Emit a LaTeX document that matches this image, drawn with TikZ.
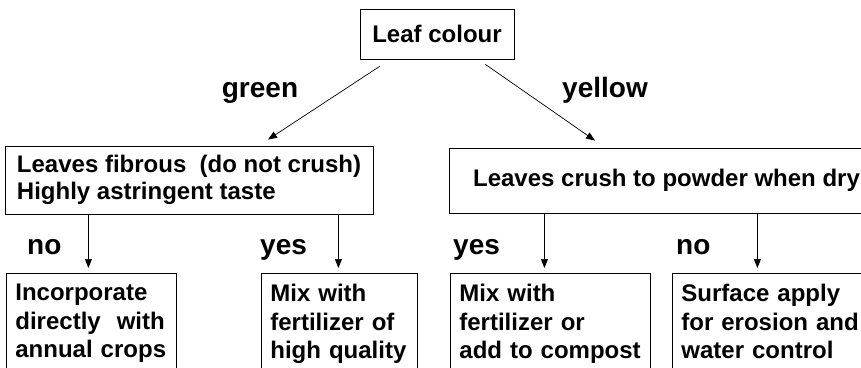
\documentclass[tikz,border=0pt]{standalone}
\usepackage{fontspec}
\setmainfont{Liberation Sans}
\usetikzlibrary{arrows.meta}

\begin{document}
\begin{tikzpicture}[x=1pt, y=-1pt,
    box/.style = {draw, line width=0.8pt, font=\fontsize{24}{28.5}\selectfont\bfseries, inner xsep=9pt, inner ysep=11pt, align=left},
    leaf/.style = {box, anchor=north west},
    lbl/.style = {font=\fontsize{28}{32}\selectfont\bfseries, inner sep=0pt},
    arr/.style = {-{Triangle[length=9pt,width=7pt]}, line width=0.7pt}]
        \path[use as bounding box, clip] (0,0) rectangle (861,367);

        \node[box, minimum width=154pt, minimum height=50pt, inner sep=0pt] (colour) at (437,34) {Leaf colour};
        \node[box, font=\fontsize{24}{27}\selectfont\bfseries, minimum width=368pt, minimum height=68pt, inner ysep=0pt] (fibrous) at (189,180) {Leaves fibrous~ (do not crush)\\Highly astringent taste};
        \node[box, minimum width=435pt, minimum height=65pt, inner sep=0pt] (powder) at (666.5,180.5) {Leaves crush to powder when dry};

        \node[leaf, text width=152pt] (direct)  at (6,273)   {Incorporate\\directly~ with\\annual crops};
        \node[leaf, text width=138pt] (quality) at (261,273) {Mix with\\fertilizer of\\high quality};
        \node[leaf, text width=182pt] (compost) at (450,273) {Mix with\\fertilizer or\\add to compost};
        \node[leaf, text width=182pt] (erosion) at (672,273) {Surface apply\\for erosion and\\water control};

        \node[lbl, anchor=base] (green)  at (260,97) {green};
        \node[lbl, anchor=base] (yellow) at (605,97) {yellow};
        \node[lbl, anchor=base west] (fib-no)  at (27,254)  {no};
        \node[lbl, anchor=base west] (fib-yes) at (260,254) {yes};
        \node[lbl, anchor=base west] (pow-yes) at (453,254) {yes};
        \node[lbl, anchor=base west] (pow-no)  at (676,254) {no};

        \draw[arr] ([xshift=20pt,yshift=-7pt]colour.south west) -- ([xshift=79pt,yshift=6pt]fibrous.north);
        \draw[arr] ([xshift=-29pt,yshift=-5pt]colour.south east) -- ([xshift=-71.5pt,yshift=7pt]powder.north);
        \draw[arr] ([xshift=-3pt]direct.north |- fibrous.south) -- ([xshift=-3pt,yshift=5pt]direct.north);
        \draw[arr] ([xshift=-1pt]quality.north |- fibrous.south) -- ([xshift=-1pt,yshift=5pt]quality.north);
        \draw[arr] ([xshift=-6pt]compost.north |- powder.south) -- ([xshift=-6pt,yshift=5pt]compost.north);
        \draw[arr] ([xshift=-15pt]erosion.north |- powder.south) -- ([xshift=-15pt,yshift=5pt]erosion.north);
    \end{tikzpicture}
\end{document}
